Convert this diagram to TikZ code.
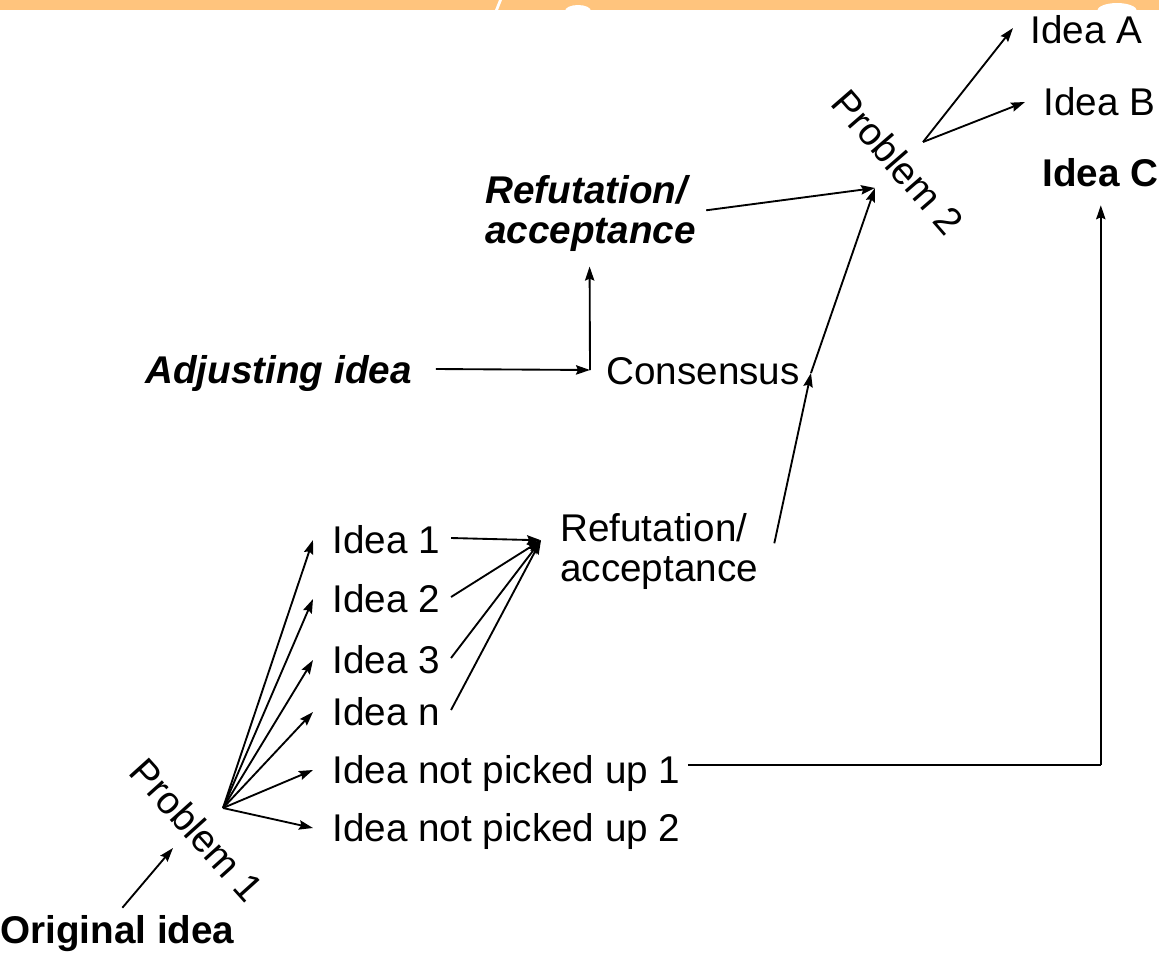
\documentclass[tikz,border=0pt]{standalone}
\usepackage{fontspec}
\setmainfont{Liberation Sans}
\usetikzlibrary{arrows.meta,calc}
\definecolor{bandcol}{RGB}{255,196,125}
\begin{document}
\begin{tikzpicture}[x=0.75pt,y=-0.75pt,
  every node/.style={inner sep=0pt, font=\fontsize{29pt}{30pt}\selectfont},
  lbl/.style={anchor=base west, text height=21pt, text depth=0pt},
  blbl/.style={lbl, font=\fontsize{29pt}{30pt}\selectfont\bfseries},
  bilbl/.style={font=\fontsize{29pt}{30pt}\selectfont\bfseries\itshape},
  multi/.style={anchor=north west, align=left},
  prob/.style={anchor=center, rotate=-49},
  arr/.style={-{Stealth[length=10.5pt,width=7pt,inset=1.5pt]}, line width=1.4pt},
  ln/.style={line width=1.4pt}]
\useasboundingbox (0,0) rectangle (1159,957);
\fill[white] (0,0) rectangle (1159,957);
% top band
\fill[bandcol] (0,0) rectangle (1159,10);
\fill[white] (495,10) -- (499,0) -- (502,0) -- (498,10) -- cycle;
\fill[white] (578,11) ellipse (13 and 6);
\fill[white] (1117,11) ellipse (20 and 8);

% nodes
\node[lbl] (ia) at (1030,43) {Idea A};
\node[lbl] (ib) at (1043,115) {Idea B};
\node[blbl] (ic) at (1042,186) {Idea C};
\node[prob] (p2) at (898,162) {Problem 2};
\node[bilbl, multi] (r2) at (485,175) {Refutation/\\acceptance};
\node[lbl, bilbl, anchor=base west] (adj) at (145,383) {Adjusting idea};
\node[lbl] (cons) at (606,384) {Consensus};
\node[multi] (r1) at (560,513) {Refutation/\\acceptance};
\node[lbl] (i1) at (332,553) {Idea 1};
\node[lbl] (i2) at (332,612) {Idea 2};
\node[lbl] (i3) at (332,673) {Idea 3};
\node[lbl] (in) at (332,725) {Idea n};
\node[lbl] (np1) at (332,783) {Idea not picked up 1};
\node[lbl] (np2) at (332,841) {Idea not picked up 2};
\node[prob, rotate=1] (p1) at (197,830) {Problem 1};
\node[blbl] (orig) at (0,943) {Original idea};

% hubs
\coordinate (p1hub) at ($(p1)+(26,-22)$);
\coordinate (p2in) at ($(p2)+(-23,26)$);
\coordinate (p2out) at ($(p2)+(25,-20)$);
\coordinate (r1hub) at ($(r1.west)+(-19,-11)$);
\coordinate (cmid) at ($(cons.east)+(11,3)$);
\coordinate (adjc) at ($(cons.west)+(-16,0)$);
\coordinate (ccorner) at ($(np1.east)+(420,-4)$);

% connectors
\draw[arr] ($(orig.north)+(5,-7)$) -- ($(p1)+(-24,18)$);
\foreach \n in {i1,i2,i3,in,np1,np2}
  \draw[arr] (p1hub) -- ($(\n.west)+(-19,1)$);
\foreach \n in {i1,i2,i3,in}
  \draw[arr] ($(\n.east)+(11,-1)$) -- (r1hub);
\draw[arr] ($(r1.east)+(16,-8)$) -- (cmid);
\draw[arr] (cmid) -- (p2in);
\draw[arr] ($(r2.east)+(10,-3)$) -- (p2in);
\draw[arr] ($(adj.east)+(24,0)$) -- (adjc);
\draw[arr] (adjc) -- ($(r2.south)+(-1,15)$);
\draw[arr] (p2out) -- ($(ia.west)+(-17,-1)$);
\draw[arr] (p2out) -- ($(ib.west)+(-18,1)$);
\draw[ln] ($(np1.east)+(7,-4)$) -- (ccorner);
\draw[arr] (ccorner) -- (ccorner |- {$(ic.south)+(0,19)$});
\end{tikzpicture}
\end{document}
